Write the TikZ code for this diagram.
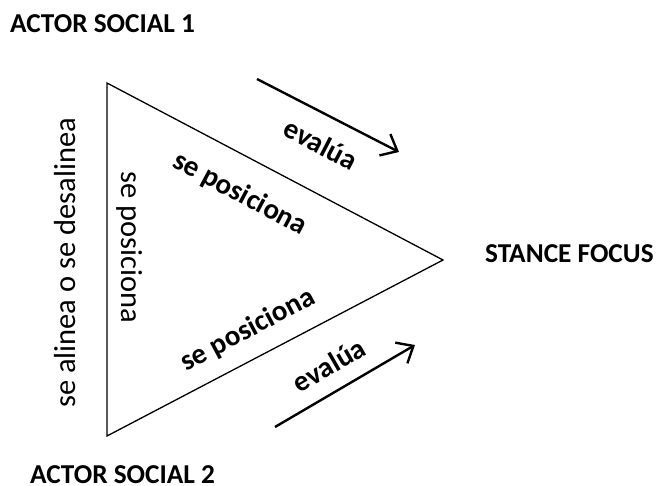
\documentclass[tikz,border=0pt]{standalone}
\usepackage{fontspec}
\setmainfont{Carlito}
\usetikzlibrary{arrows.meta}
\tikzset{
  lbl/.style={font=\fontsize{27.3}{30}\selectfont\bfseries, inner sep=0pt, anchor=west},
  boldtxt/.style={font=\fontsize{29}{30}\selectfont\bfseries, inner sep=0pt},
  regtxt/.style={font=\fontsize{30.5}{30}\selectfont, inner sep=0pt},
  tri/.style={line width=1.3pt, line join=miter},
  evarrow/.style={line width=2.4pt, -{Straight Barb[length=14pt,width=24pt,line width=2.4pt]}}
}
\begin{document}
\begin{tikzpicture}[x=1pt,y=-1pt]
\useasboundingbox (0,0) rectangle (657,486);
\fill[white] (0,0) rectangle (657,486);
% labels
\node[lbl] (a1) at (10,23.5) {ACTOR SOCIAL 1};
\node[lbl] (a2) at (30,475) {ACTOR SOCIAL 2};
\node[lbl] (sf) at (485,253.5) {STANCE FOCUS};
% triangle
\coordinate (t1) at (107,83);
\coordinate (t2) at (107,436);
\coordinate (t3) at (443,260);
\draw[tri] (t1) -- (t3) -- (t2) -- cycle;
% arrows
\coordinate (e1s) at (257,79);
\coordinate (e1e) at (399,152);
\coordinate (e2s) at (275,427);
\coordinate (e2e) at (415,345);
\draw[evarrow] (e1s) -- (e1e);
\draw[evarrow] (e2s) -- (e2e);
% texts
\node[boldtxt, rotate=-27.5] (ev1) at (321,144) {evalúa};
\node[boldtxt, rotate=30] (ev2) at (329,365) {evalúa};
\node[boldtxt, rotate=-28] (sp1) at (240,194) {se posiciona};
\node[boldtxt, rotate=28] (sp2) at (248,330) {se posiciona};
\node[regtxt, rotate=90] (al) at (65,263) {se alinea o se desalinea};
\node[regtxt, rotate=-90] (sp3) at (130,247.5) {se posiciona};
\end{tikzpicture}
\end{document}
